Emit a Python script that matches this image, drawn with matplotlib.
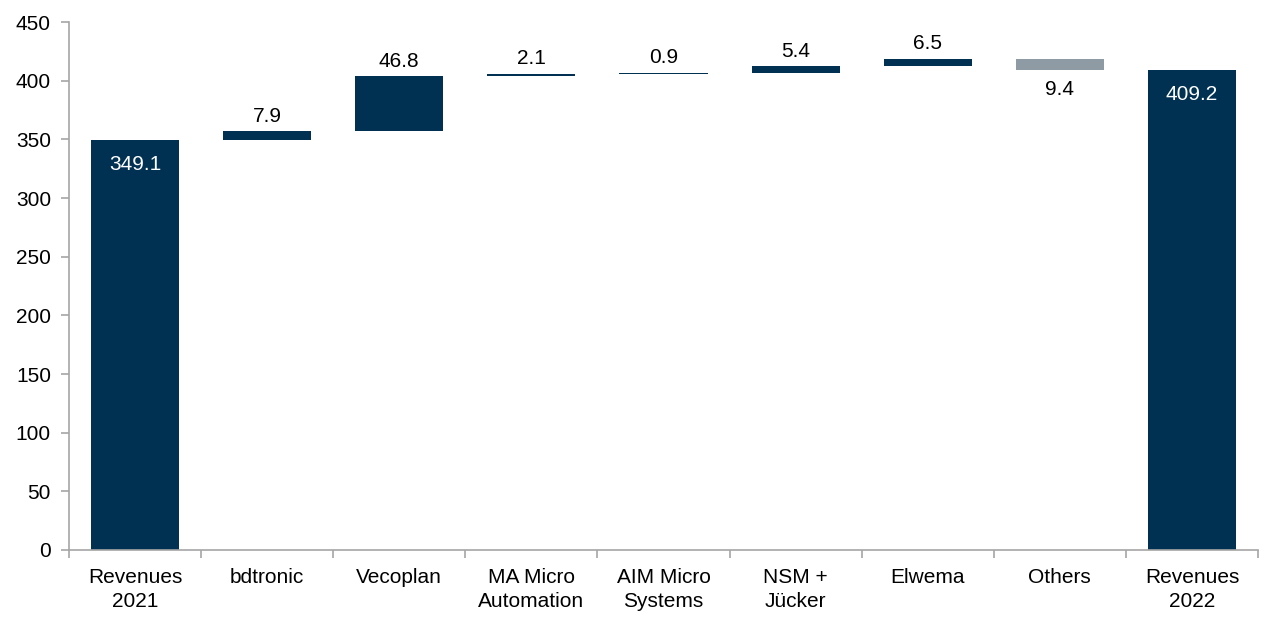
import matplotlib
matplotlib.use("Agg")
import matplotlib.pyplot as plt
import numpy as np

categories = ["Revenues\n2021", "bdtronic", "Vecoplan", "MA Micro\nAutomation",
              "AIM Micro\nSystems", "NSM +\nJücker", "Elwema", "Others", "Revenues\n2022"]
start_total = 349.1
changes = [7.9, 46.8, 2.1, 0.9, 5.4, 6.5, -9.4]
end_total = 409.2
labels = ["349.1", "7.9", "46.8", "2.1", "0.9", "5.4", "6.5", "9.4", "409.2"]

navy = "#003153"
grey = "#8F9BA4"
fs = 15

plt.rcParams["font.family"] = ["Liberation Sans", "DejaVu Sans"]

fig = plt.figure(figsize=(12.65, 6.17), dpi=100)
ax = fig.add_axes([0.0545, 0.1086, 0.94, 0.8557])

x = np.arange(len(categories))
width = 0.667

# totals
ax.bar(x[0], start_total, width=width, color=navy)
ax.bar(x[-1], end_total, width=width, color=navy)
ax.annotate(labels[0], (x[0], start_total), xytext=(0, -17.5), textcoords="offset points",
            ha="center", va="center", color="white", fontsize=fs)
ax.annotate(labels[-1], (x[-1], end_total), xytext=(0, -17.5), textcoords="offset points",
            ha="center", va="center", color="white", fontsize=fs)

level = start_total
for i, c in enumerate(changes, start=1):
    if c >= 0:
        ax.bar(x[i], c, bottom=level, width=width, color=navy)
        ax.annotate(labels[i], (x[i], level + c), xytext=(0, 4), textcoords="offset points",
                    ha="center", va="bottom", fontsize=fs, color="black")
    else:
        ax.bar(x[i], c, bottom=level, width=width, color=grey)
        ax.annotate(labels[i], (x[i], level + c), xytext=(0, -7), textcoords="offset points",
                    ha="center", va="top", fontsize=fs, color="black")
    level += c

ax.set_ylim(0, 450)
ax.set_yticks(np.arange(0, 451, 50))
ax.set_xlim(-0.5, len(categories) - 0.5)
ax.set_xticks(x)
ax.set_xticklabels(categories, fontsize=fs, linespacing=1.35)
ax.set_xticks(np.arange(-0.5, len(categories), 1.0), minor=True)
ax.tick_params(axis="x", which="major", length=0, pad=13)
ax.tick_params(axis="x", which="minor", length=6, color="#A6A6A6", width=1.2)
ax.tick_params(axis="y", length=6, color="#A6A6A6", width=1.2, labelsize=fs, pad=7)

for s in ["top", "right"]:
    ax.spines[s].set_visible(False)
for s in ["left", "bottom"]:
    ax.spines[s].set_color("#A6A6A6")
    ax.spines[s].set_linewidth(1.2)

fig.savefig("out.png", dpi=100)
